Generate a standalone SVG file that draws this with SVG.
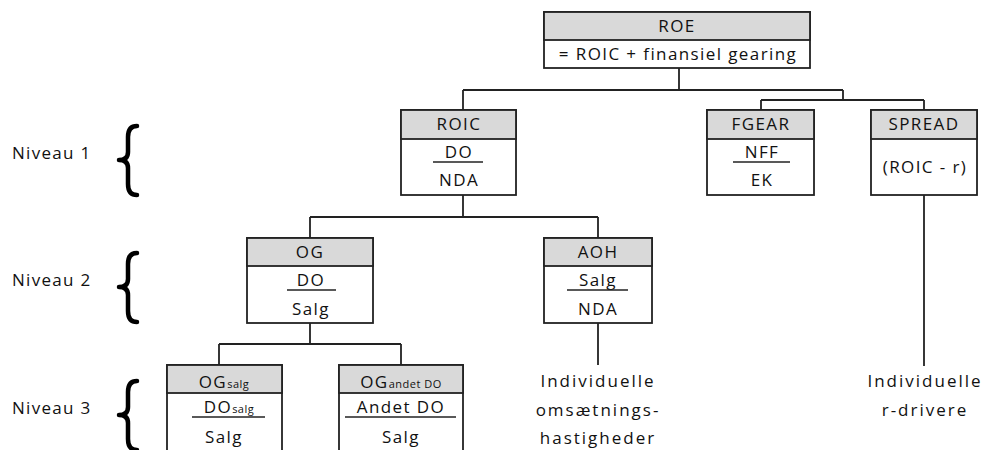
<svg xmlns="http://www.w3.org/2000/svg" width="984" height="450" viewBox="0 0 984 450">
<style>
.box{fill:#fff;stroke:#222;stroke-width:1.8}
.hdr{fill:#d9d9d9;stroke:#222;stroke-width:1.8}
.t{font-family:"Open Sans",sans-serif;font-size:17px;fill:#111;text-anchor:middle;letter-spacing:1.4px}
.sub{font-size:11px;letter-spacing:0.5px}
.frac{stroke:#222;stroke-width:1.6}
.c{stroke:#222;stroke-width:1.8;fill:none}
.lbl{font-family:"Open Sans",sans-serif;font-size:17px;fill:#111;letter-spacing:1.3px}
.call{font-family:"Open Sans",sans-serif;font-size:17px;fill:#111;text-anchor:middle;letter-spacing:2px}
.brace{fill:none;stroke:#000;stroke-width:4.5;stroke-linecap:round;stroke-linejoin:round}
</style>
<rect width="984" height="450" fill="#fff"/>
<g id="connectors">
<path class="c" d="M679,68V90M463,90H843M463,90V110M843,90V100M761,100H924M761,100V110M924,100V110"/>
<path class="c" d="M463,195V217M310,217H598M310,217V238M598,217V238"/>
<path class="c" d="M310,323V344M219,344H401M219,344V365M401,344V365"/>
<path class="c" d="M598,323V365M924,195V366"/>
</g>
<g id="levels">
<text class="lbl" x="12" y="159">Niveau 1</text>
<text class="lbl" x="12" y="286">Niveau 2</text>
<text class="lbl" x="12" y="414">Niveau 3</text>
<path class="brace" d="M137,126Q128,126 128,137V152Q128,160 119,160Q128,160 128,168V184Q128,195 137,195"/>
<path class="brace" d="M137,253Q128,253 128,264V279Q128,287 119,287Q128,287 128,295V311Q128,322 137,322"/>
<path class="brace" d="M137,381Q128,381 128,392V407Q128,415 119,415Q128,415 128,423V439Q128,450 137,450"/>
</g>
<g id="roe">
<rect class="box" x="544" y="12" width="266" height="56"/>
<rect class="hdr" x="544" y="12" width="266" height="28"/>
<text class="t" x="677" y="32">ROE</text>
<text class="t" x="678" y="60">= ROIC + finansiel gearing</text>
</g>
<g id="roic">
<rect class="box" x="401" y="110" width="115" height="85"/>
<rect class="hdr" x="401" y="110" width="115" height="29"/>
<text class="t" x="459" y="130">ROIC</text>
<text class="t" x="459" y="158">DO</text>
<line class="frac" x1="433" y1="162" x2="483" y2="162"/>
<text class="t" x="459" y="186">NDA</text>
</g>
<g id="fgear">
<rect class="box" x="707" y="110" width="107" height="85"/>
<rect class="hdr" x="707" y="110" width="107" height="29"/>
<text class="t" x="761" y="130">FGEAR</text>
<text class="t" x="762" y="158">NFF</text>
<line class="frac" x1="733" y1="162" x2="790" y2="162"/>
<text class="t" x="762" y="186">EK</text>
</g>
<g id="spread">
<rect class="box" x="871" y="110" width="106" height="85"/>
<rect class="hdr" x="871" y="110" width="106" height="29"/>
<text class="t" x="924" y="130">SPREAD</text>
<text class="t" x="925" y="173">(ROIC - r)</text>
</g>
<g id="og">
<rect class="box" x="247" y="238" width="126" height="85"/>
<rect class="hdr" x="247" y="238" width="126" height="28"/>
<text class="t" x="310" y="258">OG</text>
<text class="t" x="311" y="286">DO</text>
<line class="frac" x1="287" y1="290" x2="336" y2="290"/>
<text class="t" x="311" y="315">Salg</text>
</g>
<g id="aoh">
<rect class="box" x="544" y="238" width="108" height="85"/>
<rect class="hdr" x="544" y="238" width="108" height="28"/>
<text class="t" x="598" y="258">AOH</text>
<text class="t" x="598" y="286">Salg</text>
<line class="frac" x1="567" y1="290" x2="628" y2="290"/>
<text class="t" x="598" y="315">NDA</text>
</g>
<g id="ogsalg">
<rect class="box" x="167" y="365" width="115" height="92"/>
<rect class="hdr" x="167" y="365" width="115" height="28"/>
<text class="t" x="224" y="388">OG<tspan class="sub">salg</tspan></text>
<text class="t" x="229" y="413">DO<tspan class="sub">salg</tspan></text>
<line class="frac" x1="192" y1="417" x2="265" y2="417"/>
<text class="t" x="224" y="443">Salg</text>
</g>
<g id="ogandet">
<rect class="box" x="339" y="365" width="124" height="92"/>
<rect class="hdr" x="339" y="365" width="124" height="28"/>
<text class="t" x="401" y="388">OG<tspan class="sub">andet DO</tspan></text>
<text class="t" x="401" y="413">Andet DO</text>
<line class="frac" x1="345" y1="417" x2="456" y2="417"/>
<text class="t" x="401" y="443">Salg</text>
</g>
<g id="callouts">
<text class="call" x="598" y="387">Individuelle</text>
<text class="call" x="598" y="416">omsætnings-</text>
<text class="call" x="598" y="444">hastigheder</text>
<text class="call" x="925" y="387">Individuelle</text>
<text class="call" x="925" y="416">r-drivere</text>
</g>
</svg>
